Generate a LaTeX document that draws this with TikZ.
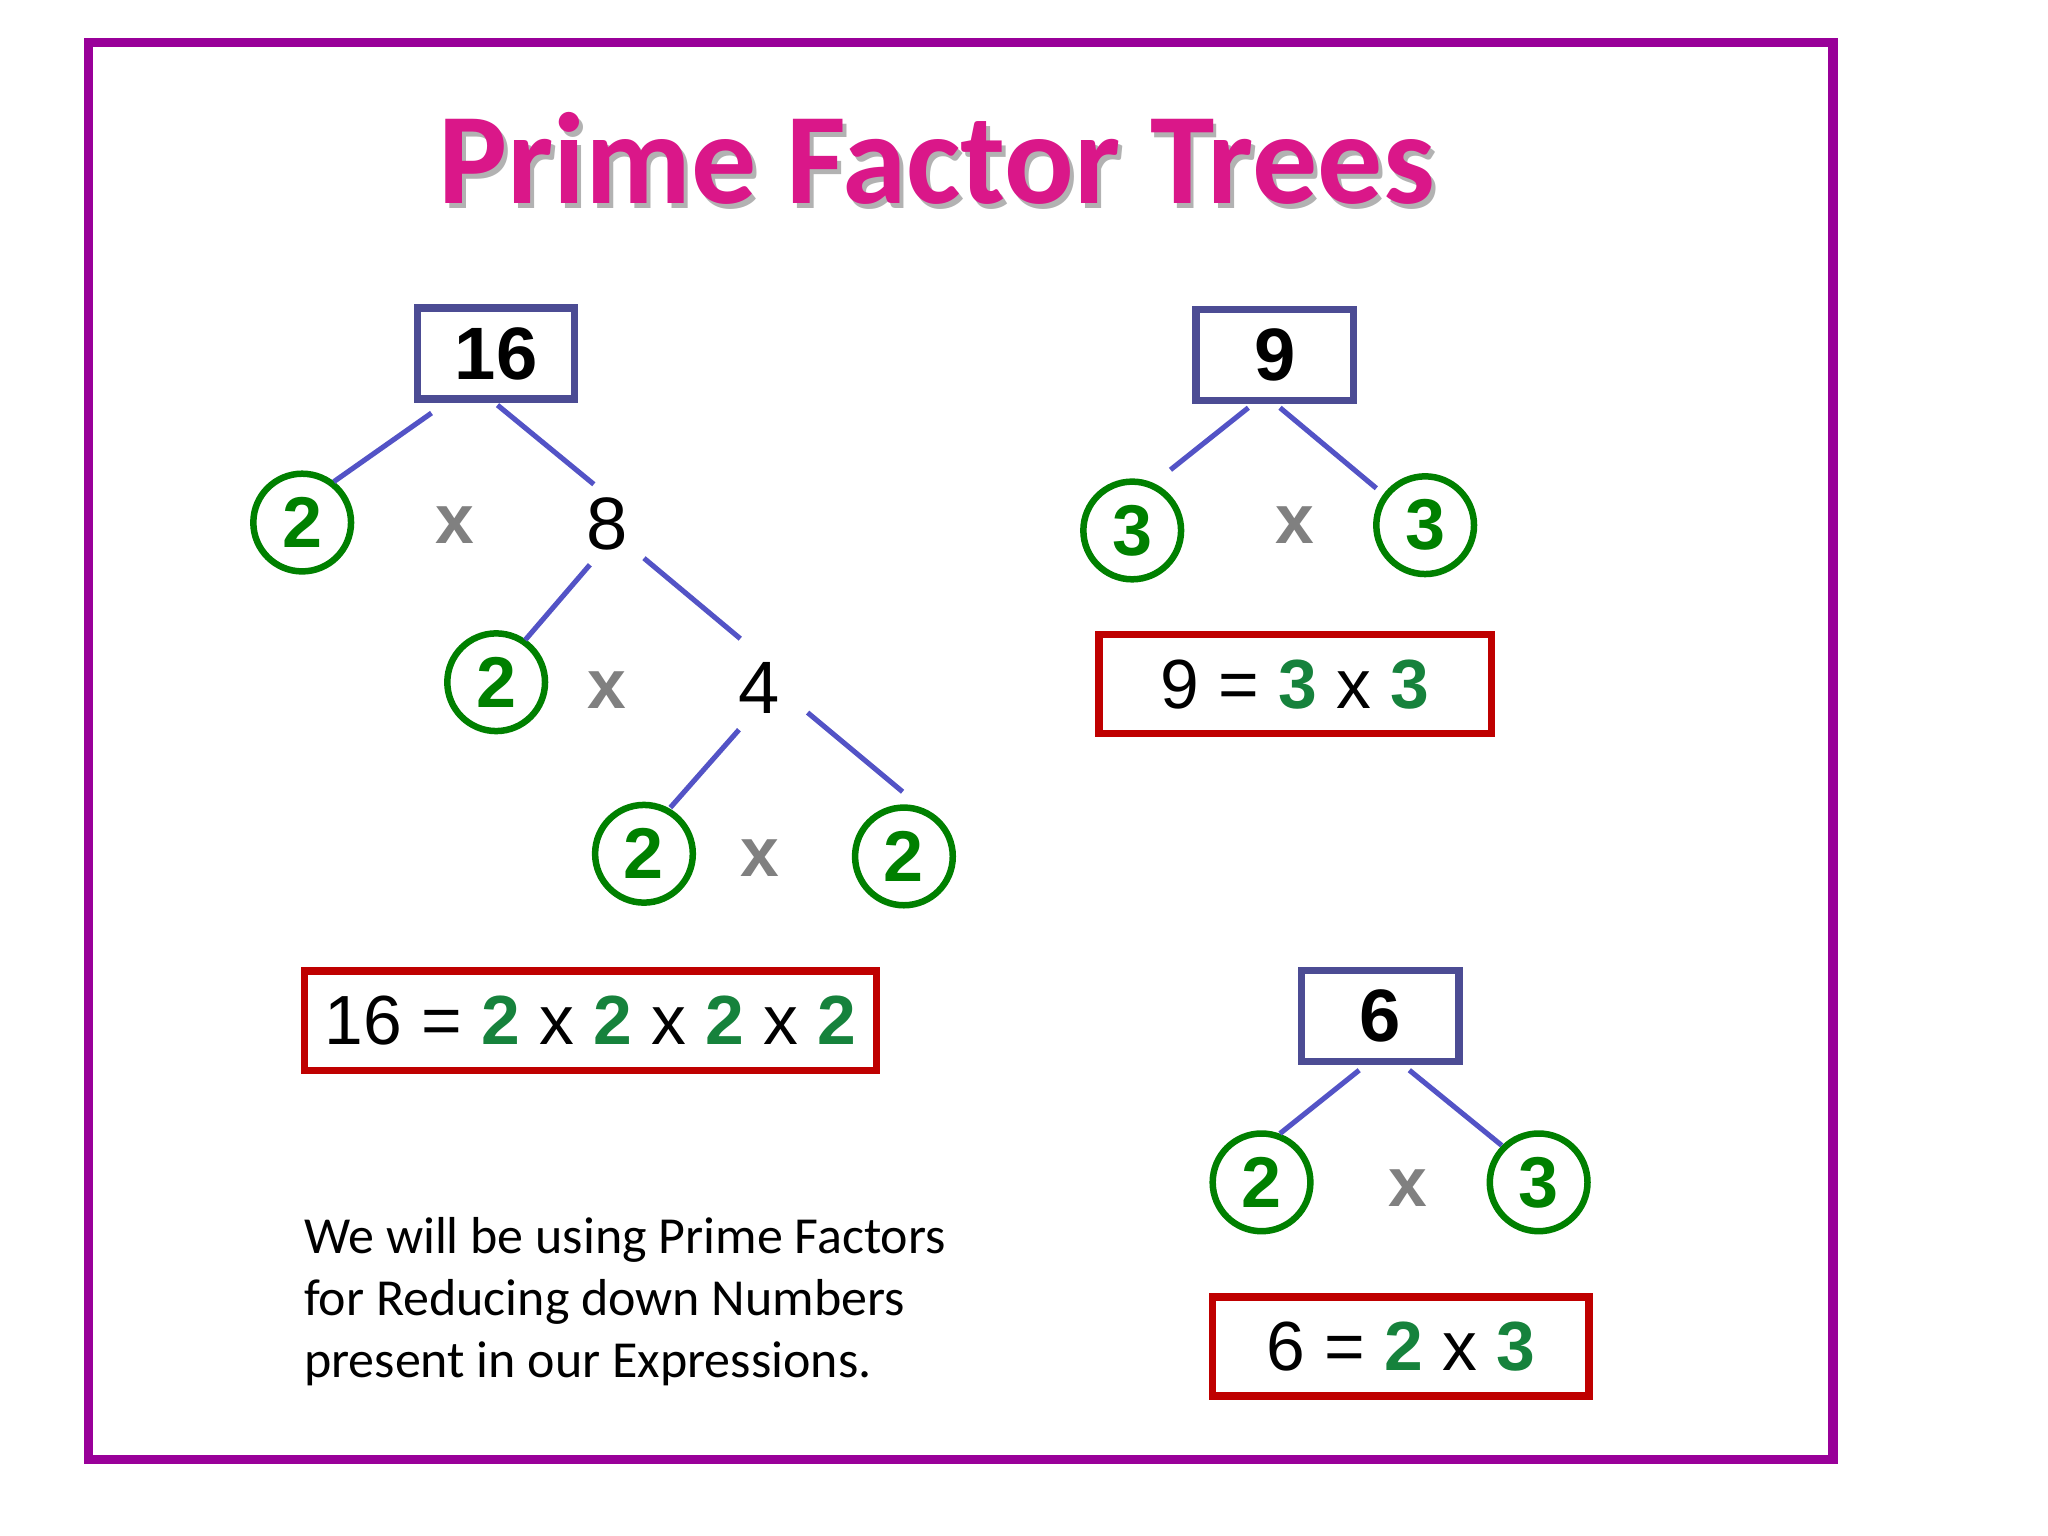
\documentclass[tikz,border=0pt]{standalone}
\usepackage{fontspec}
\setmainfont{Liberation Sans}
\newfontfamily\calib{Carlito}
\begin{document}
\begin{tikzpicture}[x=0.01cm,y=-0.01cm,
  bbox/.style={draw=blue!40!black!70!white,line width=1.6pt,minimum width=1.19cm,minimum height=0.69cm,font=\fontsize{16}{18}\selectfont\bfseries},
  pcirc/.style={circle,draw=green!50!black,line width=1.4pt,minimum size=0.74cm,inner sep=0pt,text=green!50!black,font=\fontsize{15.5}{18}\selectfont\bfseries},
  timesx/.style={text=gray,font=\fontsize{15}{18}\selectfont\bfseries},
  plain/.style={font=\fontsize{16}{18}\selectfont},
  rbox/.style={draw=red!75!black,line width=1.6pt,minimum height=0.75cm,inner sep=0pt,font=\fontsize{15}{18}\selectfont},
  br/.style={draw=blue!50!gray!90,line width=1.1pt}]
\definecolor{pg}{RGB}{22,130,60}
\newcommand{\g}[1]{\textcolor{pg}{\textbf{#1}}}
\useasboundingbox (0,0) rectangle (1552,1164);
\fill[white] (0,0) rectangle (1552,1164);
\draw[draw=violet!80!magenta,line width=2pt] (67,32) rectangle (1389,1106);
\node[text=gray!60,font=\calib\fontsize{28}{32}\selectfont\bfseries] at (713,124) {Prime Factor Trees};
\node (title) [text=magenta!80!violet,font=\calib\fontsize{28}{32}\selectfont\bfseries] at (710,120) {Prime Factor Trees};
% tree 16
\node[bbox] (b16) at (376,268) {16};
\node[pcirc] (c1) at (229,396) {2};
\node[timesx] (x1) at (345,398) {x};
\node[plain] (n8) at (460,397) {8};
\node[pcirc] (c2) at (376,517) {2};
\node[timesx] (x2) at (460,523) {x};
\node[plain] (n4) at (575,521) {4};
\node[pcirc] (c3) at (488,647) {2};
\node[timesx] (x3) at (576,650) {x};
\node[pcirc] (c4) at (685,649) {2};
\coordinate (p1) at (327,313); \coordinate (q1) at (253,365);
\coordinate (p2) at (377,307); \coordinate (q2) at (450,367);
\coordinate (p3) at (447,428); \coordinate (q3) at (398,485);
\coordinate (p4) at (488,423); \coordinate (q4) at (561,484);
\coordinate (p5) at (560,553); \coordinate (q5) at (508,612);
\coordinate (p6) at (612,540); \coordinate (q6) at (684,600);
\foreach \i in {1,...,6} {\draw[br] (p\i) -- (q\i);}
\node[rbox,minimum width=4.33cm] (e16) at (447.5,773.5) {16 = \g{2} x \g{2} x \g{2} x \g{2}};
% tree 9
\node[bbox] (b9) at (966,269) {9};
\node[pcirc] (c5) at (858,402) {3};
\node[timesx] (x4) at (981,398) {x};
\node[pcirc] (c6) at (1080,398) {3};
\coordinate (p7) at (946,309); \coordinate (q7) at (887,356);
\coordinate (p8) at (970,309); \coordinate (q8) at (1043,370);
\draw[br] (p7) -- (q7); \draw[br] (p8) -- (q8);
\node[rbox,minimum width=2.97cm] (e9) at (981.5,518.5) {9 = \g{3} x \g{3}};
% tree 6
\node[bbox] (b6) at (1046,770) {6};
\node[pcirc] (c7) at (956,896) {2};
\node[timesx] (x5) at (1067,900) {x};
\node[pcirc] (c8) at (1166,896) {3};
\coordinate (p9) at (1030,811); \coordinate (q9) at (970,859);
\coordinate (p10) at (1068,811); \coordinate (q10) at (1138,868);
\draw[br] (p9) -- (q9); \draw[br] (p10) -- (q10);
\node[rbox,minimum width=2.85cm] (e6) at (1061.5,1020.5) {6 = \g{2} x \g{3}};
\node[anchor=north west,align=left,font=\calib\fontsize{11.2}{13.4}\selectfont] (para) at (218,910)
 {We will be using Prime Factors\\for Reducing down Numbers\\present in our Expressions.};
\end{tikzpicture}
\end{document}
